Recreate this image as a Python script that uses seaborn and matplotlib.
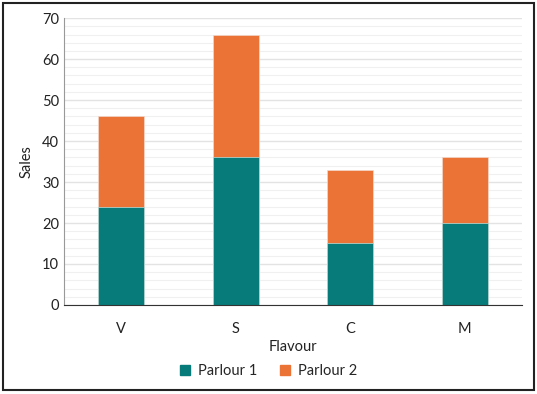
import matplotlib
matplotlib.use("Agg")
import matplotlib.pyplot as plt
import seaborn as sns
import pandas as pd
from matplotlib.patches import Rectangle, Patch

flavours = ["V", "S", "C", "M"]
parlour1 = [24, 36, 15, 20]
parlour2 = [22, 30, 18, 16]

totals = [a + b for a, b in zip(parlour1, parlour2)]
df = pd.DataFrame({"Flavour": flavours, "Parlour 1": parlour1, "Parlour 2": parlour2, "Total": totals})

teal = "#077B79"
orange = "#EB7335"

sns.set_style("white")
plt.rcParams["font.family"] = ["Lato", "DejaVu Sans"]

fig = plt.figure(figsize=(5.37, 3.94), dpi=100)
ax = fig.add_axes([0.119, 0.226, 0.853, 0.728])

sns.barplot(data=df, x="Flavour", y="Total", color=orange, width=0.4, ax=ax, saturation=1,
            edgecolor="#f3d9cc", linewidth=0.5)
sns.barplot(data=df, x="Flavour", y="Parlour 1", color=teal, width=0.4, ax=ax, saturation=1,
            edgecolor="#bfe0df", linewidth=0.5)

ax.set_ylim(0, 70)
ax.set_yticks(range(0, 71, 10))
ax.set_yticks(range(0, 71, 2), minor=True)
ax.grid(True, which="major", axis="y", color="#e3e3e3", linewidth=1)
ax.grid(True, which="minor", axis="y", color="#f0f0f0", linewidth=0.8)
ax.set_axisbelow(True)
ax.tick_params(axis="both", which="both", length=0, labelsize=10.5, colors="#222222")
ax.tick_params(axis="x", pad=12)
for s in ["top", "right"]:
    ax.spines[s].set_visible(False)
ax.spines["left"].set_color("#999999")
ax.spines["bottom"].set_color("#333333")
ax.set_xlabel("Flavour", fontsize=10.5, color="#222222", labelpad=3)
ax.set_ylabel("Sales", fontsize=10.5, color="#222222", labelpad=6)

handles = [Patch(color=teal, label="Parlour 1"), Patch(color=orange, label="Parlour 2")]
fig.legend(handles=handles, loc="center", bbox_to_anchor=(0.5, 0.058), ncol=2, frameon=False,
           fontsize=10.5, handlelength=0.7, handleheight=0.7, columnspacing=1.6, handletextpad=0.5)

fig.patches.append(Rectangle((0.006, 0.01), 0.988, 0.982, transform=fig.transFigure,
                             fill=False, edgecolor="#222222", linewidth=1.5))

fig.savefig("out.png", dpi=100)
